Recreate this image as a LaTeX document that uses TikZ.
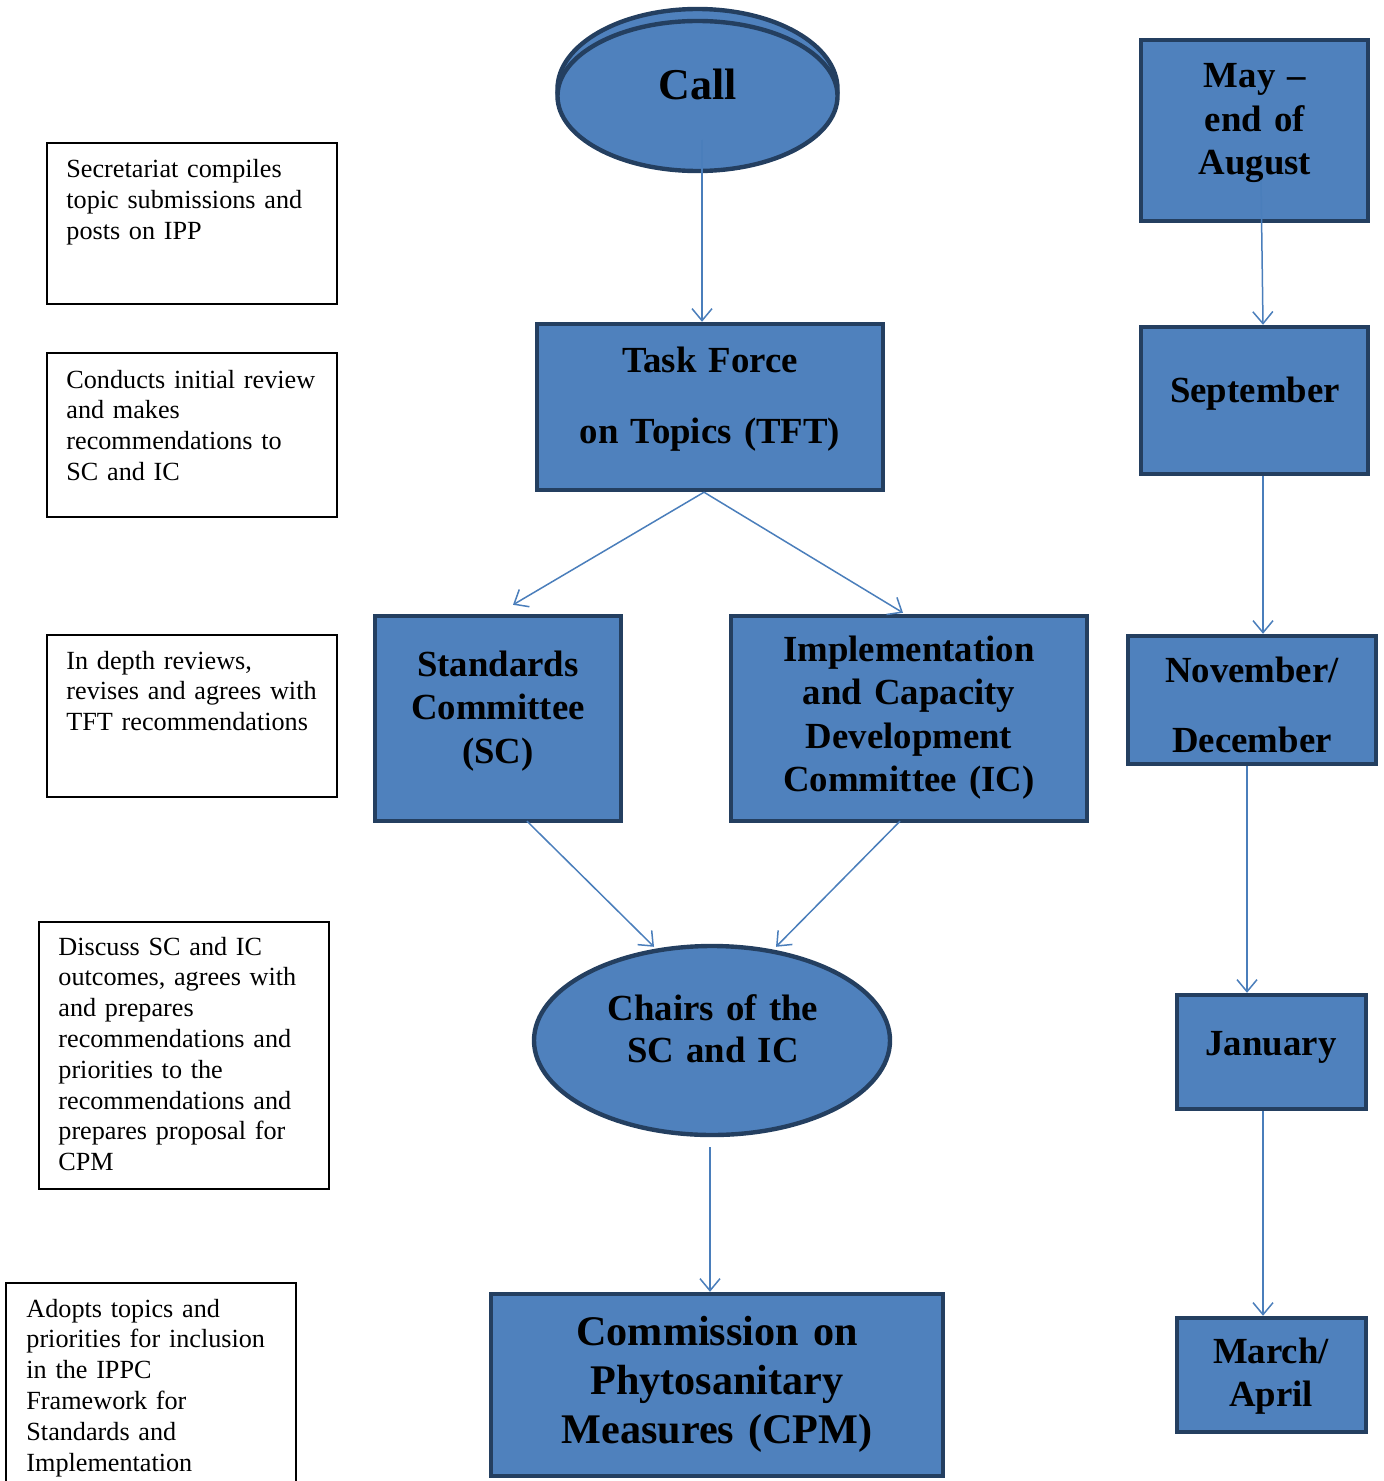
\documentclass[tikz,border=0pt]{standalone}
\usepackage{fontspec}
\setmainfont{Liberation Serif}
\usetikzlibrary{arrows.meta,shapes.geometric,calc}
\definecolor{fillblue}{HTML}{4F81BD}
\definecolor{edgeblue}{HTML}{243F60}
\definecolor{lineblue}{HTML}{4A7EBB}
\begin{document}
\begin{tikzpicture}[x=0.5pt,y=-0.5pt,
  bluebox/.style={draw=edgeblue,fill=fillblue,line width=2.2pt,inner sep=0pt},
  blueell/.style={ellipse,draw=edgeblue,fill=fillblue,line width=2.2pt,inner sep=0pt},
  notebox/.style={draw=black,line width=0.6pt,inner sep=0pt,fill=white},
  notetext/.style={anchor=base west,inner sep=0pt,text width=145pt,align=left,
    font=\fontsize{13.1}{15.4}\selectfont},
  bigtext/.style={anchor=base,inner sep=0pt,text width=220pt,align=center,
    font=\bfseries\fontsize{18.4}{21.75}\selectfont},
  arr/.style={draw=lineblue,line width=0.75pt,-{Straight Barb[length=6pt,width=10pt]}}]
\useasboundingbox (0,0) rectangle (1383,1481);
\clip (0,0) rectangle (1383,1481);

% ---- left notes ----
\node[notebox,minimum width=145pt,minimum height=80.5pt] (n1) at (192,223.5) {};
\node[notetext] (n1t) at (66,178) {Secretariat compiles\\topic submissions and\\posts on IPP};
\node[notebox,minimum width=145pt,minimum height=82pt] (n2) at (192,435) {};
\node[notetext] (n2t) at (66,388) {Conducts initial review\\and makes\\recommendations to\\SC and IC};
\node[notebox,minimum width=145pt,minimum height=81pt] (n3) at (192,716) {};
\node[notetext] (n3t) at (66,669) {In depth reviews,\\revises and agrees with\\TFT recommendations};
\node[notebox,minimum width=145pt,minimum height=133.5pt] (n4) at (184,1055.5) {};
\node[notetext] (n4t) at (58,955) {Discuss SC and IC\\outcomes, agrees with\\and prepares\\recommendations and\\priorities to the\\recommendations and\\prepares proposal for\\CPM};
\node[notebox,minimum width=145pt,minimum height=108.5pt] (n5) at (151,1391.5) {};
\node[notetext] (n5t) at (26,1317) {Adopts topics and\\priorities for inclusion\\in the IPPC\\Framework for\\Standards and\\Implementation};

% ---- centre column ----
\node[blueell,minimum width=140pt,minimum height=80pt] (callback) at (697.5,89) {};
\node[blueell,minimum width=140pt,minimum height=75pt] (call) at (697.5,96) {};
\node[anchor=base,inner sep=0pt,font=\bfseries\fontsize{22}{26}\selectfont] (callt) at (698,100) {Call};

\node[bluebox,minimum width=173pt,minimum height=83pt] (tft) at (710,407) {};
\node[bigtext,font=\bfseries\fontsize{18.4}{35.5}\selectfont] (tftt) at (710,372) {Task Force\\on Topics (TFT)};

\node[bluebox,minimum width=123pt,minimum height=102.5pt] (sc) at (498,718.5) {};
\node[bigtext] (sct) at (498,676) {Standards\\Committee\\(SC)};

\node[bluebox,minimum width=178pt,minimum height=102.5pt] (ic) at (909,718.5) {};
\node[bigtext] (ict) at (909,661) {Implementation\\and Capacity\\Development\\Committee (IC)};

\node[blueell,minimum width=178pt,minimum height=94.5pt] (chairs) at (712,1040.5) {};
\node[bigtext,font=\bfseries\fontsize{18.4}{21}\selectfont] (chairst) at (713,1020) {Chairs of the\\SC and IC};

\node[bluebox,minimum width=226pt,minimum height=91pt] (cpm) at (717,1385) {};
\node[bigtext,font=\bfseries\fontsize{21.1}{24.6}\selectfont] (cpmt) at (717,1345) {Commission on\\Phytosanitary\\Measures (CPM)};

% ---- right column ----
\node[bluebox,minimum width=113.5pt,minimum height=90.5pt] (may) at (1254.5,130.5) {};
\node[bigtext] (mayt) at (1255,88) {May --\\end of\\August};

\node[bluebox,minimum width=113.5pt,minimum height=73.5pt] (sep) at (1254.5,400.5) {};
\node[bigtext] (sept) at (1255,402) {September};

\node[bluebox,minimum width=124pt,minimum height=64pt] (nov) at (1252,700) {};
\node[bigtext,font=\bfseries\fontsize{18.4}{35}\selectfont] (novt) at (1252,682) {November/\\December};

\node[bluebox,minimum width=94.5pt,minimum height=57pt] (jan) at (1271.5,1052) {};
\node[bigtext] (jant) at (1271,1055) {January};

\node[bluebox,minimum width=94.5pt,minimum height=57pt] (mar) at (1271.5,1375) {};
\node[bigtext] (mart) at (1271,1363) {March/\\April};

% ---- connectors ----
\draw[arr] ($(call.center)+(4.5,44)$) -- ($(tft.north)+(-8,0)$);
\draw[arr] ($(tft.south)+(-6,0)$) -- ($(sc.north)+(15,-9)$);
\draw[arr] ($(tft.south)+(-6,0)$) -- ($(ic.north)+(-6,-1)$);
\draw[arr] ($(sc.south)+(29,-2)$) -- ($(chairs.north)+(-58,3)$);
\draw[arr] ($(ic.south)+(-9,-2)$) -- ($(chairs.north)+(64,3)$);
\draw[arr] ($(chairs.south)+(-2,10)$) -- ($(cpm.north)+(-7,0)$);
\draw[arr] ($(may.center)+(6.5,49.5)$) -- ($(sep.north)+(8.5,0)$);
\draw[arr] ($(sep.south)+(8.5,0)$) -- ($(nov.north)+(11,0)$);
\draw[arr] ($(nov.south)+(-5,0)$) -- ($(jan.north)+(-24.5,0)$);
\draw[arr] ($(jan.south)+(-8.5,0)$) -- ($(mar.north)+(-8.5,0)$);
\end{tikzpicture}
\end{document}
